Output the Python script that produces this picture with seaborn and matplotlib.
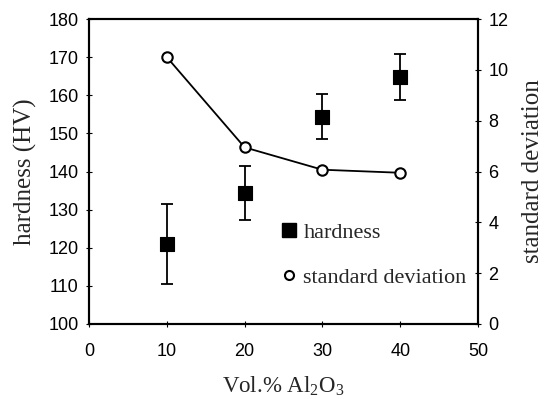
import matplotlib
matplotlib.use("Agg")
import matplotlib.pyplot as plt
import seaborn as sns
import pandas as pd
from matplotlib.lines import Line2D

vol_pct = [10, 20, 30, 40]
hardness = [121.1, 134.4, 154.4, 164.8]
hardness_err = [10.5, 7.0, 6.0, 6.0]
std_dev = [10.5, 6.95, 6.07, 5.95]

df = pd.DataFrame({"vol": vol_pct, "hardness": hardness, "err": hardness_err, "std": std_dev})

sns.set_style("white")
plt.rcParams["font.family"] = ["Liberation Sans", "DejaVu Sans"]
plt.rcParams["mathtext.fontset"] = "custom"
plt.rcParams["mathtext.rm"] = "Liberation Serif"
plt.rcParams["mathtext.it"] = "Liberation Serif:italic"

fig = plt.figure(figsize=(5.5, 3.99), dpi=100)
L, R, T, B = 89, 478, 19, 324
ax = fig.add_axes([L/550, 1-B/399, (R-L)/550, (B-T)/399])
ax2 = ax.twinx()

ax.errorbar(df["vol"], df["hardness"], yerr=df["err"], fmt="none", ecolor="black",
            elinewidth=1.3, capsize=4.5, capthick=1.3, zorder=2)
sns.scatterplot(data=df, x="vol", y="hardness", marker="s", s=100, color="black",
                edgecolor="black", ax=ax, zorder=3, legend=False)

sns.lineplot(data=df, x="vol", y="std", color="black", linewidth=1.3, ax=ax2,
             marker="o", markersize=7.5, markerfacecolor="white", markeredgecolor="black",
             markeredgewidth=1.5, legend=False)

ax.set_xlim(0, 50)
ax.set_ylim(100, 180)
ax2.set_ylim(0, 12)
ax.set_xticks([0, 10, 20, 30, 40, 50])
ax.set_yticks(range(100, 181, 10))
ax2.set_yticks(range(0, 13, 2))

for a in (ax, ax2):
    for s in a.spines.values():
        s.set_color("black")
        s.set_linewidth(1.5)
    a.tick_params(direction="inout", length=5, width=0.8, colors="black", labelsize=13, pad=5)
ax.tick_params(axis="y", left=True)
ax.tick_params(axis="x", bottom=True, pad=11)
ax2.tick_params(axis="y", right=True)

ylab = {"family": ["Liberation Serif", "DejaVu Serif"], "size": 18}
xlab = {"family": ["Liberation Serif", "DejaVu Serif"], "size": 16.5}
ax.set_xlabel("Vol.% Al$_2$O$_3$", fontdict=xlab, labelpad=11)
ax.set_ylabel("hardness (HV)", fontdict=ylab, labelpad=8)
ax2.set_ylabel("standard deviation", fontdict=ylab, rotation=90, labelpad=10)

handles = [
    Line2D([], [], marker="s", linestyle="none", color="black", markersize=10),
    Line2D([], [], marker="o", linestyle="none", markerfacecolor="white",
           markeredgecolor="black", markeredgewidth=1.5, markersize=6.5),
]
leg = ax.legend(handles, ["hardness", "standard deviation"], loc="lower left",
                bbox_to_anchor=(0.477, 0.09), frameon=False, handlelength=0.5,
                handletextpad=0.4, labelspacing=1.1, borderaxespad=0,
                prop={"family": ["Liberation Serif"], "size": 16})

fig.savefig("out.png", dpi=100)
